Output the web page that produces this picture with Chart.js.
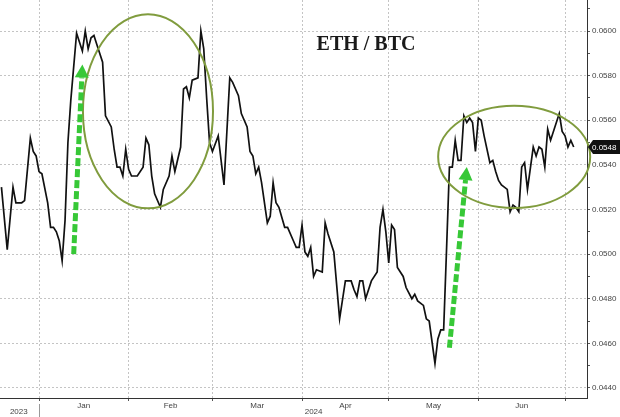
<!DOCTYPE html>
<html lang="en">
<head>
    <meta charset="UTF-8">
    <title>ETH / BTC</title>
    <script src="https://cdn.jsdelivr.net/npm/chart.js"></script>
    <style>
        html, body { margin: 0; padding: 0; background: #fff; overflow: hidden; }
        canvas { display: block; }
    </style>
</head>
<body>
    <canvas id="ethBtc" width="620" height="417"></canvas>
    <script>
        // ETH/BTC daily close
        const dates = [
            '2023-12-19','2023-12-21','2023-12-23','2023-12-24','2023-12-26','2023-12-27','2023-12-29','2023-12-30','2023-12-31',
            '2024-01-01','2024-01-02','2024-01-04','2024-01-05','2024-01-06','2024-01-07','2024-01-08','2024-01-09','2024-01-10','2024-01-11','2024-01-12','2024-01-14','2024-01-16','2024-01-17','2024-01-18','2024-01-19','2024-01-20','2024-01-21','2024-01-23','2024-01-24','2024-01-26','2024-01-27','2024-01-28','2024-01-29','2024-01-30','2024-01-31',
            '2024-02-01','2024-02-02','2024-02-04','2024-02-06','2024-02-07','2024-02-08','2024-02-09','2024-02-10','2024-02-12','2024-02-13','2024-02-15','2024-02-16','2024-02-17','2024-02-19','2024-02-20','2024-02-21','2024-02-22','2024-02-23','2024-02-25','2024-02-26','2024-02-27','2024-02-28','2024-02-29',
            '2024-03-01','2024-03-03','2024-03-05','2024-03-07','2024-03-08','2024-03-10','2024-03-11','2024-03-13','2024-03-14','2024-03-15','2024-03-16','2024-03-17','2024-03-18','2024-03-20','2024-03-21','2024-03-22','2024-03-23','2024-03-24','2024-03-26','2024-03-27','2024-03-29','2024-03-30','2024-03-31',
            '2024-04-01','2024-04-02','2024-04-03','2024-04-04','2024-04-05','2024-04-06','2024-04-08','2024-04-09','2024-04-10','2024-04-12','2024-04-14','2024-04-16','2024-04-18','2024-04-19','2024-04-20','2024-04-21','2024-04-22','2024-04-23','2024-04-25','2024-04-27','2024-04-28','2024-04-29','2024-04-30',
            '2024-05-01','2024-05-02','2024-05-03','2024-05-04','2024-05-06','2024-05-07','2024-05-09','2024-05-10','2024-05-11','2024-05-13','2024-05-14','2024-05-15','2024-05-17','2024-05-18','2024-05-19','2024-05-20','2024-05-21','2024-05-22','2024-05-23','2024-05-24','2024-05-25','2024-05-26','2024-05-27','2024-05-28','2024-05-29','2024-05-30','2024-05-31',
            '2024-06-01','2024-06-02','2024-06-03','2024-06-05','2024-06-06','2024-06-07','2024-06-08','2024-06-09','2024-06-10','2024-06-11','2024-06-12','2024-06-13','2024-06-14','2024-06-15','2024-06-16','2024-06-17','2024-06-18','2024-06-20','2024-06-21','2024-06-22','2024-06-23','2024-06-24','2024-06-25','2024-06-26','2024-06-29','2024-06-30',
            '2024-07-01','2024-07-02','2024-07-03','2024-07-04'
        ];
        const ethBtc = [
            0.0530,0.0502,0.0530,0.0523,0.0523,0.0524,0.0552,0.0546,0.0544,
            0.0537,0.0536,0.0523,0.0512,0.0512,0.0510,0.0506,0.0497,0.0515,0.0550,0.0569,0.0599,0.0591,0.0600,0.0592,0.0597,0.0598,0.0594,0.0586,0.0562,0.0557,0.0547,0.0539,0.0539,0.0535,0.0547,
            0.0538,0.0535,0.0535,0.0539,0.0552,0.0549,0.0535,0.0527,0.0521,0.0529,0.0535,0.0544,0.0537,0.0548,0.0574,0.0575,0.0570,0.0578,0.0579,0.0600,0.0592,0.0570,0.0550,
            0.0546,0.0553,0.0531,0.0579,0.0577,0.0571,0.0563,0.0557,0.0546,0.0544,0.0536,0.0539,0.0532,0.0514,0.0517,0.0532,0.0523,0.0521,0.0512,0.0512,0.0506,0.0503,0.0503,
            0.0513,0.0501,0.0499,0.0503,0.0490,0.0493,0.0492,0.0514,0.0509,0.0501,0.0471,0.0488,0.0488,0.0484,0.0481,0.0488,0.0488,0.0480,0.0488,0.0492,0.0512,0.0520,0.0510,
            0.0496,0.0513,0.0511,0.0494,0.0490,0.0485,0.0480,0.0482,0.0479,0.0477,0.0471,0.0470,0.0451,0.0462,0.0466,0.0466,0.0502,0.0539,0.0539,0.0551,0.0542,0.0542,0.0562,0.0559,0.0561,0.0559,0.0546,
            0.0561,0.0560,0.0553,0.0541,0.0542,0.0537,0.0533,0.0531,0.0530,0.0529,0.0519,0.0522,0.0521,0.0519,0.0539,0.0541,0.0529,0.0548,0.0544,0.0548,0.0547,0.0539,0.0556,0.0551,0.0563,0.0555,
            0.0553,0.0548,0.0551,0.0548
        ];
        const monthStarts = ['2024-01-01','2024-02-01','2024-03-01','2024-04-01','2024-05-01','2024-06-01','2024-07-01'];
        const monthNames = ['Jan','Feb','Mar','Apr','May','Jun'];
        const yearLabels = [{ text: '2023', date: '2023-12-25' }, { text: '2024', date: '2024-04-05' }];

        // hand-drawn annotations, placed in data units
        const ellipses = [
            { date: '2024-02-07', dx: 0.7, value: 0.0564, rDays: 22.5, rValue: 0.00435 },
            { date: '2024-06-13', dx: 0.4, value: 0.05436, rDays: 26.3, rValue: 0.00229 }
        ];
        const arrows = [
            { from: ['2024-01-13', 0.0500], to: ['2024-01-16', 0.0585] },
            { from: ['2024-05-22', 0.0458], to: ['2024-05-28', 0.0539] }
        ];

        const DAY = 86400000;
        const origin = Date.parse('2024-01-01');
        const toDay = s => (Date.parse(s) - origin) / DAY;

        const points = dates.map((d, i) => ({ x: toDay(d), y: ethBtc[i] }));
        const boundaryDays = monthStarts.map(toDay);
        const midDays = monthNames.map((m, i) => (boundaryDays[i] + boundaryDays[i + 1]) / 2);
        const isBoundary = v => boundaryDays.includes(v);
        const isMajorY = v => Math.round(v * 10000) % 20 === 0;

        const font = { family: "'Liberation Sans', Arial, sans-serif", size: 8 };

        const overlay = {
            id: 'overlay',
            afterDraw(chart) {
                const { ctx, scales: { x, y } } = chart;
                const px = d => x.getPixelForValue(d);
                const py = v => y.getPixelForValue(v);
                ctx.save();

                // title
                ctx.fillStyle = '#1a1a1a';
                ctx.font = "bold 20px 'Liberation Serif', 'Times New Roman', serif";
                ctx.textAlign = 'center';
                ctx.textBaseline = 'middle';
                ctx.fillText('ETH / BTC', 366, 45);

                // ellipses
                ctx.strokeStyle = '#809c3e';
                ctx.lineWidth = 2;
                ellipses.forEach(e => {
                    const d = toDay(e.date) + e.dx;
                    const cx = px(d), cy = py(e.value);
                    const rx = Math.abs(px(d + e.rDays) - cx);
                    const ry = Math.abs(py(e.value + e.rValue) - cy);
                    ctx.beginPath();
                    ctx.ellipse(cx, cy, rx, ry, 0, 0, Math.PI * 2);
                    ctx.stroke();
                });

                // dashed green arrows
                arrows.forEach(a => {
                    const x0 = px(toDay(a.from[0])), y0 = py(a.from[1]);
                    const x1 = px(toDay(a.to[0])), y1 = py(a.to[1]);
                    const ang = Math.atan2(y1 - y0, x1 - x0);
                    const head = 13;
                    const bx = x1 - Math.cos(ang) * head, by = y1 - Math.sin(ang) * head;
                    ctx.strokeStyle = '#37c837';
                    ctx.lineWidth = 5;
                    ctx.setLineDash([8, 3]);
                    ctx.beginPath();
                    ctx.moveTo(x0, y0);
                    ctx.lineTo(bx, by);
                    ctx.stroke();
                    ctx.setLineDash([]);
                    ctx.fillStyle = '#37c837';
                    ctx.beginPath();
                    ctx.moveTo(x1, y1);
                    ctx.lineTo(bx + Math.sin(ang) * 7, by - Math.cos(ang) * 7);
                    ctx.lineTo(bx - Math.sin(ang) * 7, by + Math.cos(ang) * 7);
                    ctx.closePath();
                    ctx.fill();
                });

                // last value tag
                const last = ethBtc[ethBtc.length - 1];
                const ty = py(last);
                const left = x.right + 1;
                ctx.fillStyle = '#111';
                ctx.beginPath();
                ctx.moveTo(left, ty);
                ctx.lineTo(left + 5, ty - 7);
                ctx.lineTo(chart.width, ty - 7);
                ctx.lineTo(chart.width, ty + 7);
                ctx.lineTo(left + 5, ty + 7);
                ctx.closePath();
                ctx.fill();
                ctx.fillStyle = '#fff';
                ctx.font = "8px 'Liberation Sans', Arial, sans-serif";
                ctx.textAlign = 'left';
                ctx.fillText(last.toFixed(4), left + 4, ty + 0.5);

                // year row
                ctx.fillStyle = '#444';
                ctx.textAlign = 'center';
                yearLabels.forEach(l => ctx.fillText(l.text, px(toDay(l.date)), 412));
                ctx.strokeStyle = '#999';
                ctx.lineWidth = 1;
                ctx.beginPath();
                ctx.moveTo(Math.round(px(0)) + 0.5, 404);
                ctx.lineTo(Math.round(px(0)) + 0.5, 417);
                ctx.stroke();

                ctx.restore();
            }
        };

        new Chart(document.getElementById('ethBtc'), {
            type: 'line',
            data: {
                datasets: [{
                    label: 'ETH / BTC',
                    data: points,
                    borderColor: '#111',
                    borderWidth: 1.7,
                    pointRadius: 0,
                    tension: 0,
                    fill: false
                }]
            },
            options: {
                responsive: false,
                animation: false,
                devicePixelRatio: 1,
                layout: { padding: 0 },
                plugins: {
                    legend: { display: false },
                    tooltip: { enabled: false }
                },
                scales: {
                    x: {
                        type: 'linear',
                        position: 'bottom',
                        min: -13.5,
                        max: 189.6,
                        afterBuildTicks: scale => {
                            scale.ticks = boundaryDays.concat(midDays).sort((a, b) => a - b).map(v => ({ value: v }));
                        },
                        afterFit: scale => {
                            scale.height = 19;
                            scale.paddingLeft = 0;
                            scale.paddingRight = 0;
                        },
                        ticks: {
                            autoSkip: false,
                            maxRotation: 0,
                            padding: 0,
                            font: font,
                            color: '#444',
                            callback: v => {
                                const i = midDays.indexOf(v);
                                return i >= 0 ? monthNames[i] : '';
                            }
                        },
                        grid: {
                            color: c => (c.tick && isBoundary(c.tick.value)) ? '#c4c4c4' : 'rgba(0,0,0,0)',
                            tickColor: c => (c.tick && isBoundary(c.tick.value)) ? '#555' : 'rgba(0,0,0,0)',
                            tickLength: 3
                        },
                        border: { display: true, color: '#333', width: 1, dash: [2, 2] }
                    },
                    y: {
                        position: 'right',
                        min: 0.04355,
                        max: 0.06139,
                        afterFit: scale => {
                            scale.width = 33;
                            scale.paddingTop = 0;
                            scale.paddingBottom = 0;
                        },
                        ticks: {
                            stepSize: 0.001,
                            includeBounds: false,
                            autoSkip: false,
                            padding: 2,
                            font: font,
                            color: '#444',
                            callback: v => isMajorY(v) ? v.toFixed(4) : ''
                        },
                        grid: {
                            color: c => (c.tick && isMajorY(c.tick.value)) ? '#c4c4c4' : 'rgba(0,0,0,0)',
                            tickColor: '#555',
                            tickLength: 3
                        },
                        border: { display: true, color: '#333', width: 1, dash: [2, 2] }
                    }
                }
            },
            plugins: [overlay]
        });
    </script>
</body>
</html>
